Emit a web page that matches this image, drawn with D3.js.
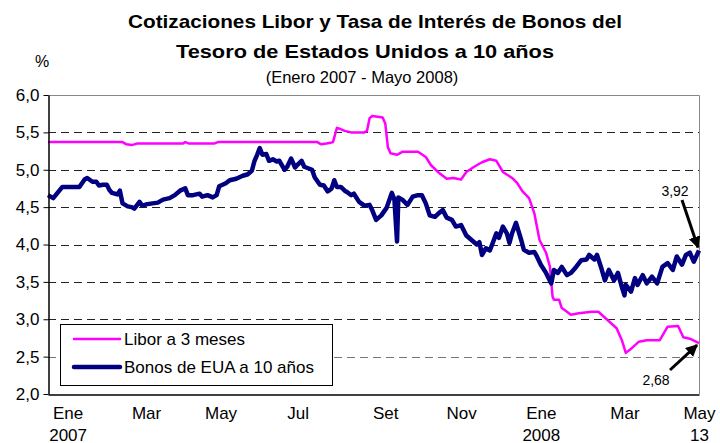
<!DOCTYPE html>
<html>
<head>
<meta charset="utf-8">
<script src="https://cdn.jsdelivr.net/npm/d3@7"></script>
<style>
  body { margin: 0; background: #fff; }
  text { font-family: Arial, "Liberation Sans", sans-serif; }
</style>
</head>
<body>
<svg id="chart" width="720" height="443"></svg>
<script>
// Libor a 3 meses
var liborDates = ["2007-01-01","2007-02-27","2007-03-02","2007-03-06","2007-03-10","2007-04-14","2007-04-16","2007-04-19",
  "2007-05-08","2007-05-11","2007-07-26","2007-07-29","2007-08-02","2007-08-05","2007-08-07","2007-08-10","2007-08-12",
  "2007-08-16","2007-08-21","2007-08-31","2007-09-02","2007-09-04","2007-09-06","2007-09-14","2007-09-16","2007-09-18",
  "2007-09-20","2007-09-25","2007-09-29","2007-10-11","2007-10-17","2007-10-21","2007-10-27","2007-11-02","2007-11-07",
  "2007-11-13","2007-11-17","2007-11-23","2007-11-29","2007-12-05","2007-12-10","2007-12-15","2007-12-22","2007-12-26",
  "2007-12-30","2008-01-04","2008-01-08","2008-01-12","2008-01-17","2008-01-20","2008-01-22","2008-01-23","2008-01-27",
  "2008-01-29","2008-02-02","2008-02-05","2008-02-11","2008-02-21","2008-02-26","2008-03-04","2008-03-11","2008-03-15",
  "2008-03-18","2008-03-23","2008-03-28","2008-04-03","2008-04-13","2008-04-19","2008-04-27","2008-05-01","2008-05-06",
  "2008-05-13"];
var liborValues = [5.37,5.37,5.34,5.33,5.35,5.35,5.37,5.35,
  5.35,5.37,5.37,5.34,5.35,5.36,5.37,5.56,5.55,
  5.52,5.50,5.50,5.52,5.69,5.72,5.70,5.62,5.30,
  5.22,5.20,5.24,5.24,5.17,5.06,4.96,4.88,4.89,
  4.87,4.97,5.04,5.10,5.14,5.12,4.97,4.89,4.82,
  4.71,4.62,4.42,4.06,3.89,3.70,3.30,3.26,3.26,
  3.15,3.10,3.06,3.08,3.10,3.10,2.99,2.88,2.72,
  2.55,2.62,2.70,2.72,2.72,2.90,2.91,2.76,2.74,
  2.68];

// Bonos del Tesoro a 10 años
var bonosDates = ["2007-01-01","2007-01-05","2007-01-12","2007-01-25","2007-01-29","2007-01-31","2007-02-04","2007-02-07",
  "2007-02-09","2007-02-12","2007-02-15","2007-02-17","2007-02-19","2007-02-23","2007-02-25","2007-02-27","2007-03-03",
  "2007-03-06","2007-03-08","2007-03-12","2007-03-14","2007-03-18","2007-03-22","2007-03-26","2007-03-30","2007-04-04",
  "2007-04-08","2007-04-12","2007-04-16","2007-04-18","2007-04-22","2007-04-27","2007-04-29","2007-05-03","2007-05-07",
  "2007-05-10","2007-05-12","2007-05-17","2007-05-20","2007-05-25","2007-05-30","2007-06-03","2007-06-06","2007-06-08",
  "2007-06-10","2007-06-12","2007-06-14","2007-06-17","2007-06-19","2007-06-22","2007-06-25","2007-06-27","2007-06-29",
  "2007-07-01","2007-07-03","2007-07-06","2007-07-09","2007-07-11","2007-07-14","2007-07-16","2007-07-19","2007-07-22",
  "2007-07-24","2007-07-28","2007-07-31","2007-08-03","2007-08-06","2007-08-08","2007-08-10","2007-08-13","2007-08-16",
  "2007-08-18","2007-08-21","2007-08-23","2007-08-27","2007-08-31","2007-09-04","2007-09-06","2007-09-09","2007-09-13",
  "2007-09-17","2007-09-21","2007-09-23","2007-09-25","2007-09-26","2007-09-29","2007-10-03","2007-10-07","2007-10-11",
  "2007-10-14","2007-10-17","2007-10-20","2007-10-24","2007-10-27","2007-10-30","2007-11-02","2007-11-06","2007-11-09",
  "2007-11-13","2007-11-17","2007-11-21","2007-11-25","2007-11-27","2007-11-29","2007-12-02","2007-12-05","2007-12-07",
  "2007-12-10","2007-12-12","2007-12-15","2007-12-18","2007-12-20","2007-12-22","2007-12-25","2007-12-29","2007-12-31",
  "2008-01-04","2008-01-08","2008-01-10","2008-01-13","2008-01-17","2008-01-21","2008-01-23","2008-01-26","2008-01-29",
  "2008-02-02","2008-02-05","2008-02-09","2008-02-13","2008-02-17","2008-02-19","2008-02-23","2008-02-25","2008-02-28",
  "2008-03-02","2008-03-05","2008-03-09","2008-03-12","2008-03-15","2008-03-17","2008-03-18","2008-03-22","2008-03-25",
  "2008-03-27","2008-03-31","2008-04-03","2008-04-07","2008-04-11","2008-04-15","2008-04-19","2008-04-23","2008-04-26",
  "2008-04-30","2008-05-03","2008-05-06","2008-05-09","2008-05-13"];
var bonosValues = [4.66,4.62,4.77,4.77,4.87,4.89,4.84,4.84,
  4.79,4.80,4.80,4.73,4.69,4.67,4.72,4.55,4.51,
  4.50,4.48,4.57,4.52,4.54,4.55,4.56,4.60,4.62,
  4.66,4.72,4.75,4.66,4.66,4.68,4.64,4.66,4.63,
  4.66,4.78,4.82,4.86,4.88,4.92,4.94,4.99,5.12,
  5.20,5.29,5.20,5.21,5.12,5.14,5.11,5.12,5.06,
  5.00,5.04,5.15,5.03,5.07,5.12,5.04,5.02,5.00,
  4.90,4.80,4.79,4.71,4.75,4.86,4.77,4.77,4.72,
  4.70,4.66,4.68,4.57,4.52,4.53,4.46,4.33,4.39,
  4.49,4.69,4.60,4.04,4.63,4.60,4.53,4.64,4.66,
  4.66,4.55,4.39,4.37,4.42,4.46,4.36,4.33,4.24,
  4.26,4.12,4.06,4.00,4.03,3.86,3.95,3.92,4.01,
  4.15,4.09,4.24,4.15,4.02,4.15,4.29,4.06,3.93,
  3.89,3.90,3.84,3.73,3.62,3.48,3.66,3.62,3.70,
  3.59,3.62,3.70,3.79,3.80,3.86,3.80,3.86,3.70,
  3.52,3.66,3.52,3.62,3.43,3.32,3.46,3.37,3.55,
  3.46,3.59,3.48,3.57,3.48,3.70,3.75,3.66,3.84,
  3.73,3.86,3.89,3.77,3.92];

var yTicks = [2.0, 2.5, 3.0, 3.5, 4.0, 4.5, 5.0, 5.5, 6.0];
var monthTicks = ["2007-01-16","2007-03-17","2007-05-13","2007-07-11","2007-09-16","2007-11-13","2008-01-13","2008-03-17","2008-05-13"];
var monthLabels = ["Ene","Mar","May","Jul","Set","Nov","Ene","Mar","May"];
var yearLabels = ["2007","","","","","","2008","","13"];

var parse = d3.timeParse("%Y-%m-%d");
var libor = liborDates.map(function (d, i) { return { date: parse(d), value: liborValues[i] }; });
var bonos = bonosDates.map(function (d, i) { return { date: parse(d), value: bonosValues[i] }; });

var svg = d3.select("#chart"),
    mLeft = 48, mRight = 699, mTop = 95, mBottom = 394;

var x = d3.scaleTime()
    .domain([parse("2007-01-01"), parse("2008-05-13")])
    .range([mLeft, mRight]);

var y = d3.scaleLinear()
    .domain([2, 6])
    .range([mBottom, mTop]);

var fmt = function (v) { return d3.format(".1f")(v).replace(".", ","); };
function fmt2(v) { return d3.format(".2f")(v).replace(".", ","); }

// titles
svg.append("text").attr("x", 375).attr("y", 28).attr("text-anchor", "middle")
    .attr("textLength", 494).attr("lengthAdjust", "spacingAndGlyphs")
    .style("font-size", "18.5px").style("font-weight", "bold")
    .text("Cotizaciones Libor y Tasa de Interés de Bonos del");
svg.append("text").attr("x", 365).attr("y", 58).attr("text-anchor", "middle")
    .attr("textLength", 378).attr("lengthAdjust", "spacingAndGlyphs")
    .style("font-size", "18.5px").style("font-weight", "bold")
    .text("Tesoro de Estados Unidos  a 10 años");
svg.append("text").attr("x", 362).attr("y", 83).attr("text-anchor", "middle")
    .style("font-size", "16.5px")
    .text("(Enero 2007 - Mayo 2008)");
svg.append("text").attr("x", 42).attr("y", 67).attr("text-anchor", "middle")
    .style("font-size", "16px")
    .text("%");

// grid
svg.append("g").selectAll("line")
    .data(yTicks.filter(function (d) { return d > 2 && d < 6; }))
    .enter().append("line")
    .attr("x1", mLeft).attr("x2", mRight)
    .attr("y1", function (d) { return Math.round(y(d)) + 0.5; })
    .attr("y2", function (d) { return Math.round(y(d)) + 0.5; })
    .attr("stroke", function (d) { return d == 2.5 ? "#777" : "#222"; })
    .attr("stroke-width", 1)
    .attr("stroke-dasharray", "8,5");

// frame: top/right grey
svg.append("path")
    .attr("d", "M" + mLeft + "," + (mTop + 0.5) + "H" + (mRight + 0.5) + "V" + mBottom)
    .attr("fill", "none").attr("stroke", "#888").attr("stroke-width", 1);

// lines
var line = d3.line()
    .x(function (d) { return x(d.date); })
    .y(function (d) { return y(d.value); });

svg.append("path").datum(libor)
    .attr("d", line)
    .attr("fill", "none").attr("stroke", "#ff00ff")
    .attr("stroke-width", 2.5).attr("stroke-linejoin", "round");

svg.append("path").datum(bonos)
    .attr("d", line)
    .attr("fill", "none").attr("stroke", "#000080")
    .attr("stroke-width", 4.5).attr("stroke-linejoin", "round");

// y axis
var yAxis = svg.append("g")
    .attr("transform", "translate(" + (mLeft + 0.5) + ",0)")
    .call(d3.axisLeft(y).tickValues(yTicks).tickSize(5).tickSizeOuter(0).tickPadding(4).tickFormat(fmt));
yAxis.select(".domain").attr("stroke", "#000").attr("stroke-width", 1.5);
yAxis.selectAll(".tick line").attr("stroke", "#000");
yAxis.selectAll("text").style("font-size", "17px").attr("fill", "#000")
    .attr("font-family", null);

// x axis
var xAxis = svg.append("g")
    .attr("transform", "translate(0," + (mBottom + 0.5) + ")")
    .call(d3.axisBottom(x).tickValues(monthTicks.map(parse)).tickSize(0).tickSizeOuter(0).tickPadding(12)
        .tickFormat(function (d, i) { return monthLabels[i]; }));
xAxis.select(".domain").attr("stroke", "#000").attr("stroke-width", 1.5);
xAxis.selectAll("text").style("font-size", "17px").attr("fill", "#000")
    .attr("font-family", null);
xAxis.selectAll(".tick")
    .append("text")
    .attr("y", 46).attr("fill", "#000").attr("text-anchor", "middle")
    .style("font-size", "17px")
    .text(function (d, i) { return yearLabels[i]; });

// legend
var legend = svg.append("g");
legend.append("rect")
    .attr("x", 60.5).attr("y", 324.5).attr("width", 272).attr("height", 61)
    .attr("fill", "#fff").attr("stroke", "#000").attr("stroke-width", 1);
var items = [{ name: "Libor a 3 meses", color: "#ff00ff", w: 2.5, y: 339 },
             { name: "Bonos de EUA a 10 años", color: "#000080", w: 4.5, y: 367 }];
items.forEach(function (it) {
    legend.append("line").attr("x1", 74).attr("x2", 120).attr("y1", it.y).attr("y2", it.y)
        .attr("stroke", it.color).attr("stroke-width", it.w).attr("stroke-linecap", "round");
    legend.append("text").attr("x", 124).attr("y", it.y + 6)
        .style("font-size", "17px").text(it.name);
});

// annotations
svg.append("defs").append("marker")
    .attr("id", "arrow").attr("viewBox", "0 0 10 10").attr("refX", 9).attr("refY", 5)
    .attr("markerWidth", 4).attr("markerHeight", 4).attr("orient", "auto")
    .append("path").attr("d", "M0,0L10,5L0,10z").attr("fill", "#000");

var lastBono = bonos[bonos.length - 1], lastLibor = libor[libor.length - 1];
svg.append("text").attr("x", 675).attr("y", 196).attr("text-anchor", "middle")
    .style("font-size", "14px").text(fmt2(lastBono.value));
svg.append("line").attr("x1", 682).attr("y1", 200)
    .attr("x2", x(lastBono.date) - 1).attr("y2", y(lastBono.value) - 3)
    .attr("stroke", "#000").attr("stroke-width", 3).attr("marker-end", "url(#arrow)");

svg.append("text").attr("x", 656).attr("y", 385).attr("text-anchor", "middle")
    .style("font-size", "14px").text(fmt2(lastLibor.value));
svg.append("line").attr("x1", 670).attr("y1", 370)
    .attr("x2", x(lastLibor.date) - 2).attr("y2", y(lastLibor.value) + 2)
    .attr("stroke", "#000").attr("stroke-width", 3).attr("marker-end", "url(#arrow)");
</script>
</body>
</html>
